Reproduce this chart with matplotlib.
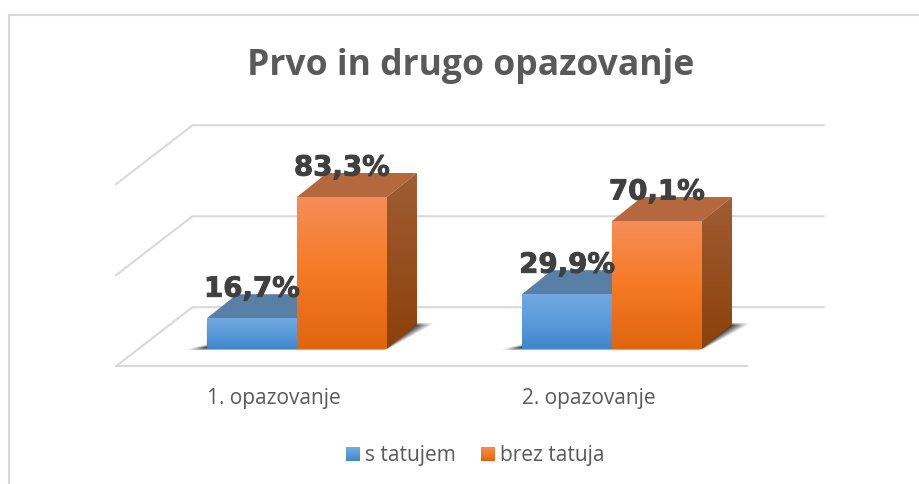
import numpy as np
import matplotlib
matplotlib.use("Agg")
import matplotlib.pyplot as plt
import matplotlib.patheffects as pe
from matplotlib.patches import Polygon, Rectangle
from matplotlib.colors import LinearSegmentedColormap

categories = ["1. opazovanje", "2. opazovanje"]
series_names = ["s tatujem", "brez tatuja"]
s_tatujem = [16.7, 29.9]
brez_tatuja = [83.3, 70.1]
labels_s = ["16,7%", "29,9%"]
labels_brez = ["83,3%", "70,1%"]
grid_values = [0, 50, 100]

W, H = 919, 484
PX_X = 315.0   # pixels for one category
PX_Y = 1.82    # pixels for one percent
X0, Y0 = 297, 348.6

fig = plt.figure(figsize=(W / 100, H / 100), dpi=100)
ax = fig.add_axes([0, 0, 1, 1])
xlim = ((0 - X0) / PX_X, (W - X0) / PX_X)
ylim = ((Y0 - H) / PX_Y, Y0 / PX_Y)


def dx(px):
    return px / PX_X


def dy(px):
    return px / PX_Y


# chart frame, only top and left show in the crop
grid_c = "#d9d9d9"
ax.plot([dx(9 - X0), dx(9 - X0)], [dy(Y0 - 484), dy(Y0 - 15)], color=grid_c, lw=1.5)
ax.plot([dx(9 - X0), dx(W - X0)], [dy(Y0 - 15), dy(Y0 - 15)], color=grid_c, lw=1.5)

# floor and gridlines
front_l, front_r = dx(116 - X0), dx(747 - X0)
depth_x, depth_y = dx(76.5), dy(59)
floor_y = dy(-17.6)
for v in grid_values:
    y = floor_y + depth_y + v
    ax.plot([front_l, front_l + depth_x, front_r + depth_x], [y - depth_y, y, y], color=grid_c, lw=1.5)
ax.plot([front_l, front_r], [floor_y, floor_y], color=grid_c, lw=1.5)

bar_w = dx(90)
off_x, off_y = dx(30), dy(24)

blue = LinearSegmentedColormap.from_list("blue", ["#3f86cb", "#5b9bdb", "#72a9e2"])
orange = LinearSegmentedColormap.from_list("orange", ["#e0650f", "#f67a23", "#f58d58"])
side_orange = LinearSegmentedColormap.from_list("so", ["#8c410a", "#a05c34"])
grad = np.linspace(0, 1, 256).reshape(-1, 1)


def fill(patch, cmap, y0, y1, x0, x1, z):
    ax.add_patch(patch)
    patch.set(fc="none", ec="none", zorder=z)
    im = ax.imshow(grad, cmap=cmap, origin="lower", extent=[x0, x1, y0, y1], aspect="auto", zorder=z)
    im.set_clip_path(patch)


def soft_shadow(x_left, x_right):
    # blurry wedge on the floor under one pair of bars, worked out in pixels
    l_px, r_px = x_left * PX_X, x_right * PX_X
    px, h = np.meshgrid(np.arange(l_px - 24, r_px + 60), np.arange(-5, 30))
    left = np.clip((px - (l_px - 19 + 4 * h)) / 14, 0, 1) * np.clip((h + 2) / 3, 0, 1)
    rb = r_px + 2 + 1.8 * h
    right = np.clip((rb - px) / (0.55 * np.clip(h, 0, 30) + 4), 0, 1)
    right = right * np.clip((h + 2) / 3, 0, 1) * np.clip((27 - h) / 3, 0, 1)
    a = np.where(px < l_px, left, right) * 0.8
    rgba = np.zeros(a.shape + (4,))
    rgba[..., 3] = a
    ax.imshow(rgba, origin="lower", aspect="auto", zorder=2, interpolation="bilinear",
              extent=[dx(px.min()), dx(px.max()), dy(h.min()), dy(h.max())])


def draw_box(x, v, cmap, side_cmap, top_c, z):
    ax.add_patch(Polygon([(x + off_x, v + off_y), (x + off_x + bar_w, v + off_y), (x + bar_w, v), (x, v)],
                         closed=True, fc=top_c, ec="none", zorder=z))
    side = Polygon([(x + bar_w, 0), (x + bar_w + off_x, off_y), (x + bar_w + off_x, v + off_y), (x + bar_w, v)],
                   closed=True)
    fill(side, side_cmap, 0, v + off_y, x + bar_w, x + bar_w + off_x, z)
    front = Rectangle((x, 0), bar_w, v)
    fill(front, cmap, 0, v, x, x + bar_w, z + 0.1)


for i in range(len(categories)):
    soft_shadow(i - bar_w, i + bar_w)
    draw_box(i - bar_w, s_tatujem[i], blue, side_orange, "#587fa6", 3)
    draw_box(i, brez_tatuja[i], orange, side_orange, "#b5673d", 4)

# data labels, wide face because the original digits are stretched
lab_font = dict(family="DejaVu Sans", weight="bold", size=19.9, color="#404040", ha="center", va="baseline", zorder=6,
                path_effects=[pe.withStroke(linewidth=0.7, foreground="#404040")])
lab_up = dy(21.5)
for i in range(len(categories)):
    ax.text(i - bar_w / 2, s_tatujem[i] + lab_up, labels_s[i], **lab_font)
    ax.text(i + bar_w / 2, brez_tatuja[i] + lab_up, labels_brez[i], **lab_font)

# category labels
for i, c in enumerate(categories):
    ax.text(i - dx(23), dy(-55), c, family="Open Sans", size=15, color="#595959", ha="center", va="baseline")

ax.text(dx(471 - X0), dy(Y0 - 75), "Prvo in drugo opazovanje", family="Open Sans", weight="bold", size=25.6,
        color="#595959", ha="center", va="baseline")

# legend
leg_x = [346, 481]
leg_cmaps = [blue, orange]
for px, name, cm in zip(leg_x, series_names, leg_cmaps):
    x0 = dx(px - X0)
    r = Rectangle((x0, dy(Y0 - 461)), dx(14), dy(14))
    fill(r, cm, dy(Y0 - 461), dy(Y0 - 447), x0, x0 + dx(14), 5)
    ax.text(x0 + dx(19), dy(Y0 - 461), name, family="Open Sans", size=15, color="#595959", ha="left", va="baseline")

ax.set_xlim(xlim)
ax.set_ylim(ylim)
ax.axis("off")
fig.savefig("out.png", dpi=100, facecolor="white")
